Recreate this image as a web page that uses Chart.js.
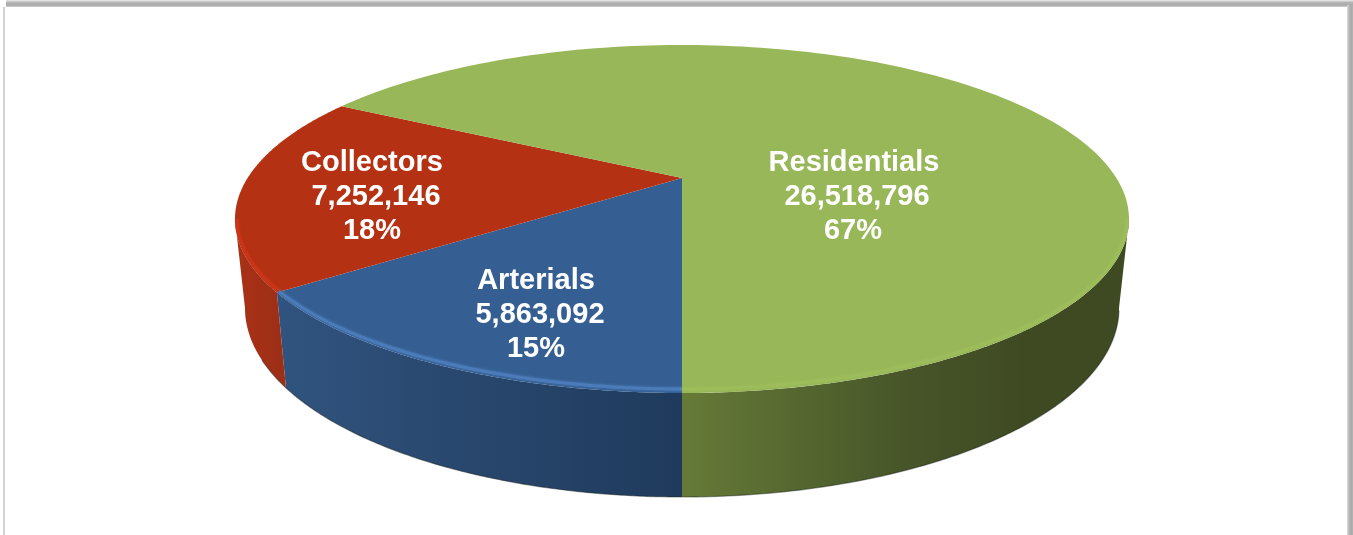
<!DOCTYPE html>
<html lang="en">

<head>
    <meta charset="UTF-8">
    <title>Road length by class</title>
    <script src="https://cdn.jsdelivr.net/npm/chart.js"></script>
    <style>
        html, body { margin: 0; padding: 0; background: #fff; overflow: hidden; }
        #wrap { position: relative; width: 1353px; height: 535px; }
        #topBand { position: absolute; left: 6px; right: 0; top: 0; height: 7px;
            background: linear-gradient(to bottom, #ececec, #b6b6b6 35%, #a9a9a9 75%, #d4d4d4); }
        #rightBand { position: absolute; right: 0; top: 5px; bottom: 0; width: 6px;
            background: linear-gradient(to right, #dedede, #bcbcbc 30%, #a8a8a8 70%, #b4b4b4); }
        #leftLine { position: absolute; left: 3px; top: 7px; bottom: 0; width: 2px; background: #d2d2d2; }
        canvas { position: absolute; left: 0; top: 0; }
    </style>
</head>

<body>
    <div id="wrap">
        <div id="topBand"></div>
        <div id="rightBand"></div>
        <div id="leftLine"></div>
        <canvas id="roadPie" width="1353" height="535"></canvas>
    </div>

    <script>
        const categories = ['Arterials', 'Collectors', 'Residentials'];
        const lengths = [5863092, 7252146, 26518796];
        const valueLabels = ['5,863,092', '7,252,146', '26,518,796'];
        const percentLabels = ['15%', '18%', '67%'];
        const topColors = ['#355f92', '#b43114', '#98b759'];
        const rimColors = ['#4b7cb9', '#cc3418', '#9dbd5b'];

        // where the label block of each slice sits: name x, value x, percent x, first line y
        const labelPlaces = [[536, 540, 536, 281], [372, 376, 372, 163], [854, 857, 853, 163]];
        const lineHeight = 34;

        // the tilted disc: top face and base are ellipses, the tilt pushes the centre up
        const topFace = { cx: 682, cy: 219, rx: 447, ry: 174 };
        const baseFace = { cx: 682, cy: 308, rx: 437, ry: 189 };
        const tilt = 0.235;

        // angle on the flat pie -> point on the tilted ellipse
        function project(face, angle, radius) {
            const u = Math.cos(angle) * radius;
            const v = Math.sin(angle) * radius;
            const d = 1 - tilt * v;
            return {
                x: face.cx + face.rx * u * Math.sqrt(1 - tilt * tilt) / d,
                y: face.cy + face.ry * (v - tilt) / d
            };
        }

        function arcPoints(face, start, end) {
            const pts = [];
            const steps = 160;
            for (let i = 0; i <= steps; i++) {
                pts.push(project(face, start + (end - start) * i / steps, 1));
            }
            return pts;
        }

        function tracePath(ctx, pts) {
            pts.forEach((p, n) => n ? ctx.lineTo(p.x, p.y) : ctx.moveTo(p.x, p.y));
        }

        // only the part of a slice that faces the viewer has a visible wall
        function frontRange(start, end) {
            const lo = Math.asin(tilt);
            const hi = Math.PI - lo;
            for (const shift of [0, Math.PI * 2]) {
                const a = Math.max(start, lo + shift);
                const b = Math.min(end, hi + shift);
                if (b > a) return [a, b];
            }
            return null;
        }

        function wallFill(ctx, index) {
            const g = ctx.createLinearGradient(235, 0, 1130, 0);
            if (index === 0) {
                g.addColorStop(0.05, '#30547f');
                g.addColorStop(0.2, '#2b4a72');
                g.addColorStop(0.3, '#27456b');
                g.addColorStop(0.5, '#1f3a5c');
            } else if (index === 1) {
                g.addColorStop(0, '#a93115');
                g.addColorStop(0.06, '#9b2f17');
            } else {
                g.addColorStop(0.5, '#667a38');
                g.addColorStop(0.63, '#55672f');
                g.addColorStop(0.75, '#475529');
                g.addColorStop(0.88, '#3f4a22');
                g.addColorStop(1, '#3e4a21');
            }
            return g;
        }

        const tiltedPie = {
            id: 'tiltedPie',
            beforeDatasetsDraw(chart) {
                const ctx = chart.ctx;
                const arcs = chart.getDatasetMeta(0).data;
                ctx.save();

                // side walls first, the top face covers the edge behind it
                arcs.forEach((arc, i) => {
                    const range = frontRange(arc.startAngle, arc.endAngle);
                    if (!range) return;
                    const upper = arcPoints(topFace, range[0], range[1]);
                    const lower = arcPoints(baseFace, range[0], range[1]).reverse();
                    ctx.beginPath();
                    tracePath(ctx, upper.concat(lower));
                    ctx.closePath();
                    ctx.fillStyle = wallFill(ctx, i);
                    ctx.fill();
                });

                // thin dark line under the base
                ctx.beginPath();
                tracePath(ctx, arcPoints(baseFace, 0.25, Math.PI - 0.5));
                ctx.strokeStyle = 'rgba(20,30,25,0.45)';
                ctx.lineWidth = 1.2;
                ctx.stroke();

                // top face
                arcs.forEach((arc, i) => {
                    const apex = project(topFace, 0, 0);
                    ctx.beginPath();
                    ctx.moveTo(apex.x, apex.y);
                    arcPoints(topFace, arc.startAngle, arc.endAngle).forEach(p => ctx.lineTo(p.x, p.y));
                    ctx.closePath();
                    ctx.fillStyle = topColors[i];
                    ctx.fill();
                });

                // light bevel along the front rim, soft and kept inside the top face
                ctx.save();
                ctx.beginPath();
                ctx.ellipse(topFace.cx, topFace.cy, topFace.rx, topFace.ry, 0, 0, Math.PI * 2);
                ctx.clip();
                const rimFace = { cx: topFace.cx, cy: topFace.cy, rx: topFace.rx - 2, ry: topFace.ry - 4 };
                arcs.forEach((arc, i) => {
                    const range = frontRange(arc.startAngle, arc.endAngle);
                    if (!range) return;
                    ctx.beginPath();
                    tracePath(ctx, arcPoints(rimFace, range[0], range[1]));
                    ctx.strokeStyle = rimColors[i];
                    ctx.shadowColor = rimColors[i];
                    ctx.shadowBlur = 3;
                    ctx.lineWidth = 3;
                    ctx.stroke();
                });
                ctx.restore();

                // data labels
                ctx.fillStyle = '#fff';
                ctx.font = 'bold 29px "Liberation Sans"';
                ctx.textAlign = 'center';
                ctx.textBaseline = 'middle';
                categories.forEach((name, i) => {
                    const place = labelPlaces[i];
                    ctx.fillText(name, place[0], place[3]);
                    ctx.fillText(valueLabels[i], place[1], place[3] + lineHeight);
                    ctx.fillText(percentLabels[i], place[2], place[3] + lineHeight * 2);
                });

                ctx.restore();
                return false;
            }
        };

        new Chart(document.getElementById('roadPie'), {
            type: 'pie',
            data: {
                labels: categories,
                datasets: [{ data: lengths, backgroundColor: topColors, borderWidth: 0 }]
            },
            options: {
                responsive: false,
                animation: false,
                rotation: 180,
                plugins: {
                    legend: { display: false },
                    tooltip: { enabled: false }
                }
            },
            plugins: [tiltedPie]
        });
    </script>
</body>

</html>
